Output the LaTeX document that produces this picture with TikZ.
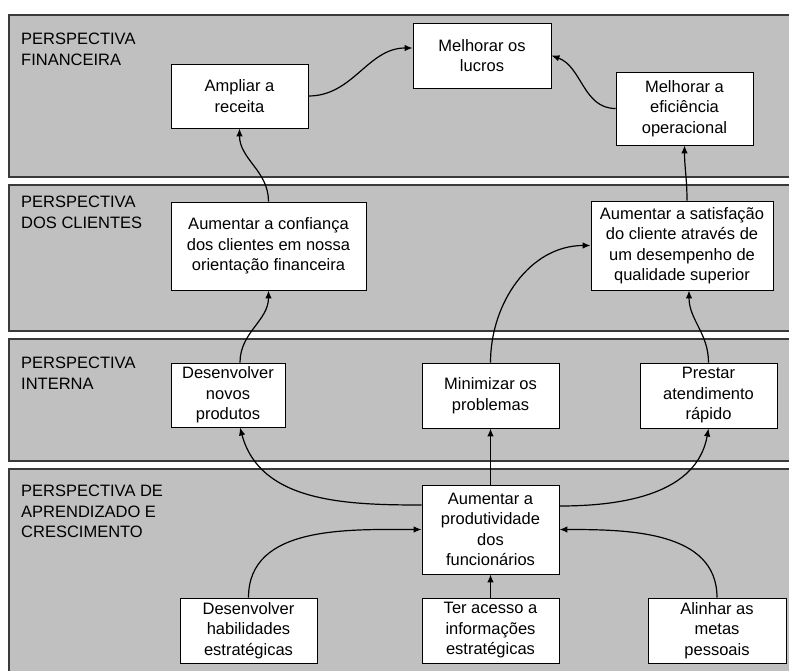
\documentclass[tikz,border=0pt]{standalone}
\usepackage{fontspec}
\setmainfont{Liberation Sans}
\usetikzlibrary{arrows.meta,calc}
\definecolor{bandgray}{HTML}{C0C0C0}
\definecolor{bandedge}{HTML}{3A3A3A}
\tikzset{
  band/.style={fill=bandgray,draw=bandedge,line width=1.1pt},
  bandlabel/.style={anchor=north west,inner sep=0pt,align=left,font=\fontsize{16.5}{20.5}\selectfont},
  box/.style={draw=black,fill=white,line width=0.9pt,inner sep=0pt,align=center,font=\fontsize{16.5}{20.5}\selectfont},
  link/.style={line width=1.2pt,-{Latex[length=8pt,width=6.5pt]}}
}
\begin{document}
\begin{tikzpicture}[x=1pt,y=-1pt]
\useasboundingbox (0,0) rectangle (789,671);
\clip (0,0) rectangle (789,671);
\fill[white] (0,0) rectangle (789,671);
% bands
\draw[band] (9,15) rectangle (800,177);
\draw[band] (9,185) rectangle (800,331);
\draw[band] (9,339) rectangle (800,461);
\draw[band] (9,469) rectangle (800,700);
\node[bandlabel] (l1) at (21,33) {PERSPECTIVA\\FINANCEIRA};
\node[bandlabel] (l2) at (21,196) {PERSPECTIVA\\DOS CLIENTES};
\node[bandlabel] (l3) at (21,357) {PERSPECTIVA\\INTERNA};
\node[bandlabel] (l4) at (21,485) {PERSPECTIVA DE\\APRENDIZADO E\\CRESCIMENTO};
% boxes
\node[box,minimum width=137pt,minimum height=64pt] (ampliar) at (239.5,96) {Ampliar a\\receita};
\node[box,minimum width=138pt,minimum height=65pt] (lucros) at (482,55.5) {Melhorar os\\lucros};
\node[box,minimum width=137pt,minimum height=73pt] (efic) at (684.5,108.5) {Melhorar a\\eficiência\\operacional};
\node[box,minimum width=195pt,minimum height=88pt] (confianca) at (268.5,246) {Aumentar a confiança\\dos clientes em nossa\\orientação financeira};
\node[box,minimum width=182pt,minimum height=89pt] (satisf) at (682,245.5) {Aumentar a satisfação\\do cliente através de\\um desempenho de\\qualidade superior};
\node[box,minimum width=114pt,minimum height=64pt] (novos) at (228,395) {Desenvolver\\novos\\produtos};
\node[box,minimum width=137pt,minimum height=65pt] (minim) at (490.5,395.5) {Minimizar os\\problemas};
\node[box,minimum width=137pt,minimum height=65pt] (prestar) at (708.5,395.5) {Prestar\\atendimento\\rápido};
\node[box,minimum width=137pt,minimum height=89pt] (produt) at (490.5,529.5) {Aumentar a\\produtividade\\dos\\funcionários};
\node[box,minimum width=137pt,minimum height=65pt] (habil) at (248.5,630.5) {Desenvolver\\habilidades\\estratégicas};
\node[box,minimum width=137pt,minimum height=65pt] (acesso) at (490.5,630.5) {Ter acesso a\\informações\\estratégicas};
\node[box,minimum width=138pt,minimum height=65pt] (alinhar) at (717,630.5) {Alinhar as\\metas\\pessoais};
% connector anchors
\coordinate (lucrosW) at ($(lucros.west)+(0,-7.5)$);
\coordinate (novosN) at ($(novos.north)+(12,0)$);
\coordinate (novosS) at ($(novos.south)+(12,0)$);
\coordinate (produtWu) at ($(produt.west)+(0,-24.5)$);
\coordinate (produtEu) at ($(produt.east)+(0,-23.5)$);
% connectors
\draw[link] (ampliar.east) to[out=0,in=180] (lucrosW);
\draw[link] (efic.west) to[out=180,in=-20] (lucros.east);
\draw[link] (confianca.north) to[out=90,in=-90] (ampliar.south);
\draw[link] ($(satisf.north)+(5,0)$) to[out=90,in=-90] (efic.south);
\draw[link] (novosN) to[out=90,in=-90] (confianca.south);
\draw[link] (minim.north) to[out=90,in=180] (satisf.west);
\draw[link] (prestar.north) to[out=90,in=-90] ($(satisf.south)+(7,0)$);
\draw[link] (produtWu) to[out=180,in=-75] (novosS);
\draw[link] (produt.north) -- (minim.south);
\draw[link] (produtEu) to[out=0,in=-100] (prestar.south);
\draw[link] (habil.north) to[out=90,in=180] (produt.west);
\draw[link] (acesso.north) -- (produt.south);
\draw[link] (alinhar.north) to[out=90,in=0] (produt.east);
\end{tikzpicture}
\end{document}
